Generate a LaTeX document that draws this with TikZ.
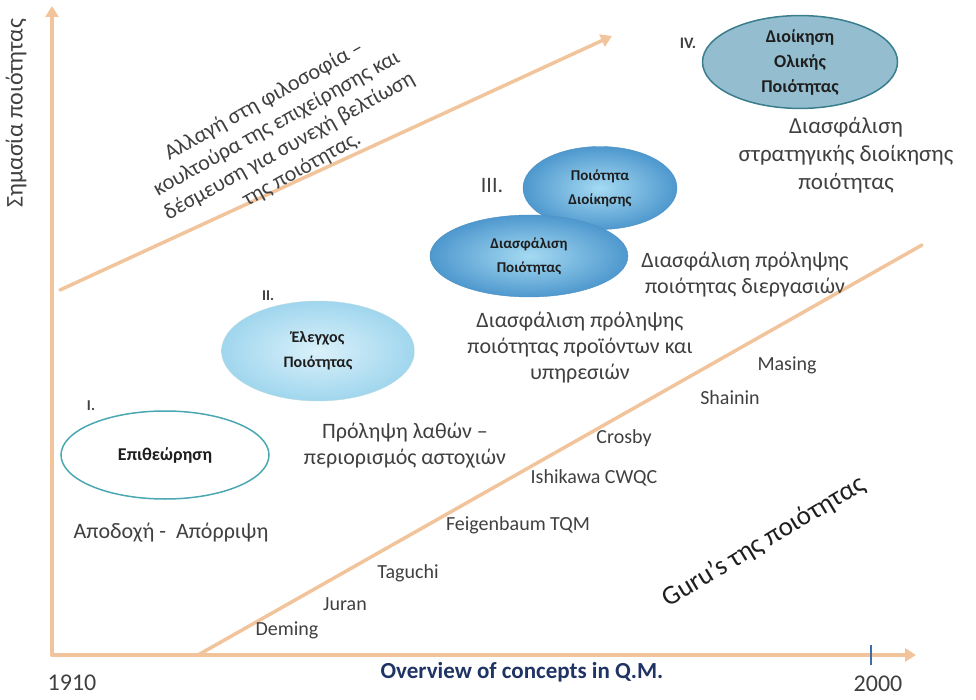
\documentclass[tikz,border=0pt]{standalone}
\usepackage{fontspec}
\setmainfont{Carlito}
\usetikzlibrary{shapes.geometric,arrows.meta}

\definecolor{axisorange}{RGB}{242,196,156}
\definecolor{notegray}{RGB}{64,64,64}
\definecolor{labeltext}{RGB}{30,30,30}
\definecolor{tealline}{RGB}{75,168,178}
\definecolor{navytext}{RGB}{31,52,100}
\definecolor{tickblue}{RGB}{60,110,170}

\begin{document}
\begin{tikzpicture}[x=1pt,y=-1pt,
    axisline/.style={line width=3.5pt, draw=axisorange, line cap=round},
    axistip/.style={-{Triangle[width=13pt,length=11pt]}},
    phase/.style={ellipse, inner sep=0pt, align=center, text=labeltext,
        font=\bfseries\fontsize{15}{24}\selectfont},
    note/.style={align=center, text=notegray, font=\fontsize{22}{26}\selectfont},
    guru/.style={text=notegray, font=\fontsize{20}{22}\selectfont},
    roman/.style={text=notegray, font=\bfseries\fontsize{15}{16}\selectfont}]

    % Fix the frame of the picture
    \useasboundingbox (0,0) rectangle (976,700);

    % Define the origin and the ends of the axes
    \coordinate (O) at (52,655);
    \coordinate (Ytop) at (52,6);
    \coordinate (Xtip) at (916,655);

    % Define the ends of the two diagonals
    \coordinate (Ustart) at (60,290);
    \coordinate (Uend) at (612,36);
    \coordinate (Lstart) at (198,655);
    \coordinate (Lend) at (922,245);

    % Draw the axes
    \draw[axisline,axistip] (O) -- (Ytop);
    \draw[axisline,axistip] (O) -- (Xtip);

    % Draw the diagonals
    \draw[axisline,axistip] (Ustart) -- (Uend);
    \draw[axisline] (Lstart) -- (Lend);

    % Draw the tick for 2000
    \draw[tickblue, line width=2pt] (871,645) -- (871,665);

    % Add the axis labels
    \node[rotate=90, text=notegray, font=\fontsize{24}{28}\selectfont] (ylabel) at (16,113) {Σημασία ποιότητας};
    \node[text=navytext, font=\bfseries\fontsize{23}{26}\selectfont] (xlabel) at (522,672) {Overview of concepts in Q.M.};
    \node[text=notegray, font=\fontsize{24}{26}\selectfont] (start) at (72,683) {1910};
    \node[text=notegray, font=\fontsize{24}{26}\selectfont] (end) at (878,684) {2000};

    % Add the text along the upper arrow
    \node[note, rotate=29, font=\fontsize{22}{26}\selectfont] (change) at (283,135)
        {Αλλαγή στη φιλοσοφία –\\κουλτούρα της επιχείρησης και\\δέσμευση για συνεχή βελτίωση\\της ποιότητας.};

    % Draw the phases
    \node[phase, draw=tealline, line width=1.5pt, fill=white,
        font=\bfseries\fontsize{18}{24}\selectfont,
        minimum width=208pt, minimum height=88pt] (epith) at (165,455) {Επιθεώρηση};
    \node[phase, draw=tealline!40, inner color={rgb,255:red,218;green,241;blue,250},
        outer color={rgb,255:red,160;green,214;blue,238},
        font=\bfseries\fontsize{16}{25}\selectfont,
        minimum width=193pt, minimum height=100pt] (elegx) at (318,351) {Έλεγχος\\Ποιότητας};
    \node[phase, draw={rgb,255:red,80;green,145;blue,195},
        inner color={rgb,255:red,165;green,218;blue,242},
        outer color={rgb,255:red,78;green,152;blue,206},
        minimum width=154pt, minimum height=83pt] (poiot) at (600,188) {Ποιότητα\\Διοίκησης};
    \node[phase, draw={rgb,255:red,80;green,145;blue,195},
        inner color={rgb,255:red,165;green,218;blue,242},
        outer color={rgb,255:red,78;green,152;blue,206},
        minimum width=198pt, minimum height=82pt] (diasf) at (529,256) {Διασφάλιση\\Ποιότητας};
    \node[phase, draw={rgb,255:red,58;green,126;blue,142}, line width=1.5pt,
        fill={rgb,255:red,148;green,190;blue,208},
        font=\bfseries\fontsize{18}{25}\selectfont,
        minimum width=195pt, minimum height=90pt] (dioik) at (800,62) {Διοίκηση\\Ολικής\\Ποιότητας};

    % Add the phase numbers
    \node[roman] (n1) at (91,406) {I.};
    \node[roman] (n2) at (268,296) {II.};
    \node[text=notegray, font=\fontsize{22}{24}\selectfont] (n3) at (492,186) {III.};
    \node[roman, font=\bfseries\fontsize{16}{18}\selectfont] (n4) at (688,43) {IV.};

    % Add the notes under the phases
    \node[note] (accept) at (171,533) {Αποδοχή -\ \ Απόρριψη};
    \node[note] (prevent) at (405,446) {Πρόληψη λαθών –\\περιορισμός αστοχιών};
    \node[note] (products) at (580,348) {Διασφάλιση πρόληψης\\ποιότητας προϊόντων και\\υπηρεσιών};
    \node[note] (process) at (745,275) {Διασφάλιση πρόληψης\\ποιότητας διεργασιών};
    \node[note, font=\fontsize{23}{28}\selectfont] (strategy) at (846,155) {Διασφάλιση\\στρατηγικής διοίκησης\\ποιότητας};

    % Add the gurus
    \node[guru] (deming) at (287,630) {Deming};
    \node[guru] (juran) at (345,604) {Juran};
    \node[guru] (taguchi) at (408,573) {Taguchi};
    \node[guru] (feigen) at (518,525) {Feigenbaum TQM};
    \node[guru] (ishikawa) at (594,478) {Ishikawa CWQC};
    \node[guru] (crosby) at (624,438) {Crosby};
    \node[guru] (shainin) at (730,398) {Shainin};
    \node[guru] (masing) at (787,365) {Masing};
    \node[rotate=31, text=labeltext, font=\fontsize{27}{30}\selectfont] (gurus) at (764,542) {Guru’s της ποιότητας};

\end{tikzpicture}
\end{document}
